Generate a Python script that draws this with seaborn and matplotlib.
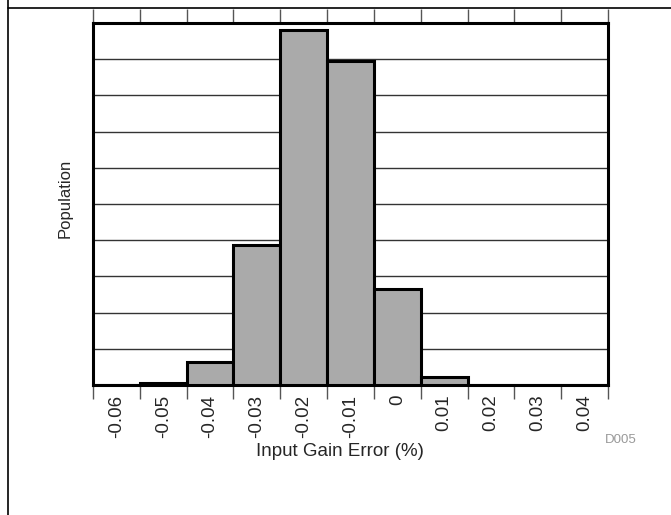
import matplotlib
matplotlib.use("Agg")
import matplotlib.pyplot as plt
from matplotlib.lines import Line2D
import numpy as np
import pandas as pd
import seaborn as sns

# histogram bins (labels at bin centres) and bar heights in grid units
bins = ["-0.06", "-0.05", "-0.04", "-0.03", "-0.02", "-0.01", "0", "0.01", "0.02", "0.03", "0.04"]
population = [0.0, 0.06, 0.63, 3.87, 9.82, 8.95, 2.66, 0.21, 0.0, 0.0, 0.0]

df = pd.DataFrame({"bin": bins, "pop": population})

sns.set_style("white")
plt.rcParams["font.family"] = ["Liberation Sans", "DejaVu Sans"]

fig = plt.figure(figsize=(6.71, 5.15), dpi=100)
ax = fig.add_axes([93 / 671, 1 - 385 / 515, (608 - 93) / 671, (385 - 23) / 515])

sns.barplot(data=df, x="bin", y="pop", ax=ax, width=1.0, color="#aaaaaa",
            saturation=1, edgecolor="black", linewidth=2.2, zorder=3)

ax.set_xlim(-0.5, len(bins) - 0.5)
ax.set_ylim(0, 10)

# horizontal grid
ax.set_yticks(np.arange(0, 11, 1))
ax.set_yticklabels([])
ax.tick_params(axis="y", length=0)
ax.grid(axis="y", color="#333333", linewidth=1, zorder=0)
ax.set_axisbelow(True)

# labels at bin centres, ticks at bin edges (top and bottom)
ax.set_xticks(range(len(bins)))
ax.set_xticklabels(bins, rotation=90, fontsize=13.5)
ax.tick_params(axis="x", which="major", length=0, pad=7)
ax.set_xticks(np.arange(-0.5, len(bins), 1), minor=True)
ax.tick_params(axis="x", which="minor", length=10, width=1, color="#555555",
               direction="out", top=True, bottom=True)

for s in ax.spines.values():
    s.set_visible(True)
    s.set_linewidth(2.2)
    s.set_color("black")

ax.set_xlabel("Input Gain Error (%)", fontsize=13.5, labelpad=4, x=0.48)
ax.set_ylabel("Population", fontsize=12, labelpad=11, y=0.515)

fig.text(637 / 671, 1 - 440 / 515, "D005", fontsize=9.5, color="#999999",
         ha="right", va="center")

# frame lines of the surrounding box
fig.add_artist(Line2D([8 / 671, 8 / 671], [0, 1], transform=fig.transFigure,
                      color="black", linewidth=1.2))
fig.add_artist(Line2D([8 / 671, 1], [1 - 8 / 515, 1 - 8 / 515], transform=fig.transFigure,
                      color="black", linewidth=1.2))

fig.savefig("out.png", dpi=100)
